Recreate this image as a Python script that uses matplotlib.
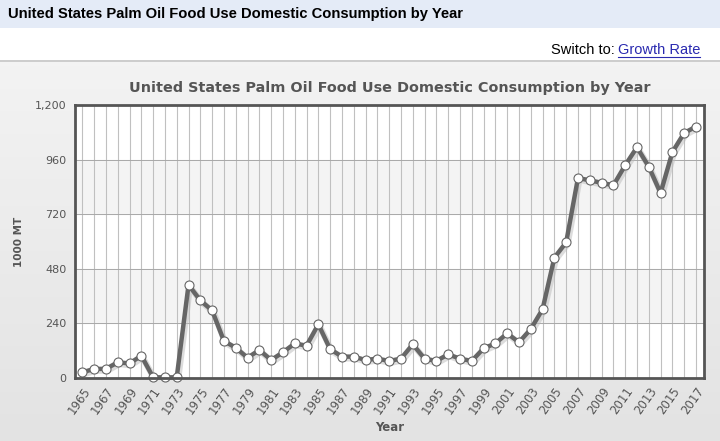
import numpy as np
import matplotlib.pyplot as plt
from matplotlib.lines import Line2D
from matplotlib.patches import Rectangle
from matplotlib.ticker import FuncFormatter

# Jahre und Werte (1000 MT)
years = list(range(1965, 2018))
values = [25, 40, 40, 69, 64, 98, 3, 3, 3, 409,
          341, 297, 163, 133, 89, 123, 79, 113, 152, 142,
          236, 127, 94, 94, 79, 85, 75, 85, 148, 85,
          75, 104, 85, 75, 130, 152, 196, 157, 215, 302,
          529, 596, 879, 869, 858, 847, 935, 1014, 929, 813,
          993, 1077, 1105]
y_ticks = [0, 240, 480, 720, 960, 1200]
x_labels = list(range(1965, 2018, 2))

W, H = 720, 441
fig = plt.figure(figsize=(W / 100, H / 100), dpi=100)
fig.patch.set_facecolor('white')

def fy(px):
    return 1 - px / H

# Kopfzeile
fig.patches.append(Rectangle((0, fy(28)), 1, 28 / H, transform=fig.transFigure,
                             facecolor='#e4ebf7', edgecolor='none', zorder=0))
fig.text(8 / W, fy(14), 'United States Palm Oil Food Use Domestic Consumption by Year',
         family='Liberation Sans', weight='bold', fontsize=10.6, color='black',
         va='center', ha='left')

sw = fig.text(700 / W, fy(50), 'Growth Rate', family='Liberation Sans', fontsize=10.5,
              color='#2a2ab0', va='center', ha='right')
fig.canvas.draw()
bb = sw.get_window_extent()
fig.text(bb.x0 / W - 3 / W, fy(50), 'Switch to:', family='Liberation Sans', fontsize=10.5,
         color='black', va='center', ha='right')
fig.lines.append(Line2D([bb.x0 / W, bb.x1 / W], [bb.y0 / H + 0.5 / H] * 2,
                        transform=fig.transFigure, color='#2a2ab0', lw=0.8))

# Trennlinie und grauer Hintergrund
fig.lines.append(Line2D([0, 1], [fy(61)] * 2, transform=fig.transFigure,
                        color='#c4c4c4', lw=1.2))
bg = fig.add_axes([0, 0, 1, fy(62)], zorder=-1)
grad = np.linspace(0, 1, 100).reshape(-1, 1)
bg.imshow(grad, aspect='auto', cmap=plt.matplotlib.colors.LinearSegmentedColormap.from_list(
    'g', ['#f3f3f3', '#e3e3e3']), extent=[0, 1, 0, 1], origin='upper')
bg.axis('off')

fig.text(390 / W, fy(88), 'United States Palm Oil Food Use Domestic Consumption by Year',
         weight='bold', fontsize=10.4, color='#555555', ha='center', va='center')

# Diagramm
ax = fig.add_axes([75 / W, fy(378), (704 - 75) / W, (378 - 105) / H])
ax.set_facecolor('white')
for lo in (240, 720):
    ax.axhspan(lo, lo + 240, color='#f4f4f4', zorder=0)
for yr in years:
    ax.axvline(yr, color='#c0c0c0', lw=0.8, zorder=1)
for v in y_ticks[1:-1]:
    ax.axhline(v, color='#a8a8a8', lw=0.7, zorder=1)

# Schatten
ax.plot(np.array(years) + 0.12, np.array(values) - 8, color='#bbbbbb', lw=4.5,
        alpha=0.5, zorder=2, solid_joinstyle='round')
ax.plot(years, values, color='#666666', lw=3.2, zorder=3, solid_joinstyle='round',
        marker='o', markersize=6.5, markerfacecolor='white', markeredgecolor='#666666',
        markeredgewidth=0.8, clip_on=False)

ax.set_xlim(1964.38, 2017.68)
ax.set_ylim(0, 1200)
ax.set_yticks(y_ticks)
ax.yaxis.set_major_formatter(FuncFormatter(lambda v, p: f'{int(v):,}'))
ax.set_xticks(x_labels)
ax.set_xticklabels([str(x) for x in x_labels], rotation=55, ha='right',
                   rotation_mode='anchor')
ax.tick_params(axis='both', length=0, labelsize=8, labelcolor='#555555')
ax.tick_params(axis='x', labelsize=8.5, pad=5)
ax.tick_params(axis='y', pad=6)
for s in ax.spines.values():
    s.set_color('#555555')
    s.set_linewidth(2)
    s.set_zorder(4)

ax.set_xlabel('Year', weight='bold', fontsize=8.5, color='#555555', labelpad=3)
ax.set_ylabel('1000 MT', weight='bold', fontsize=7.5, color='#555555', labelpad=8)

fig.savefig('out.png', dpi=100)
